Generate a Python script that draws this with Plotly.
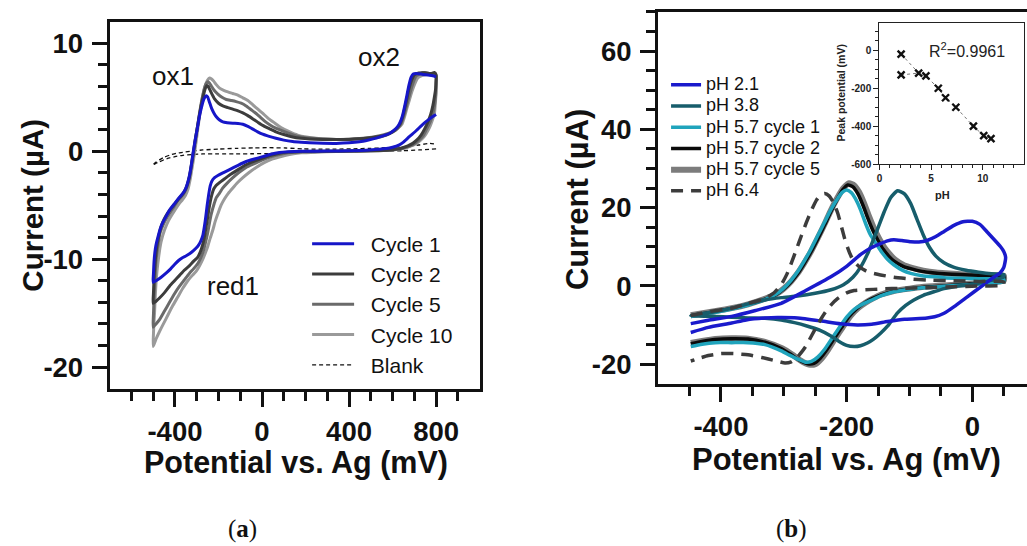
import plotly.graph_objects as go

FONT = "Liberation Sans, Arial, sans-serif"

# ---------------- Panel (a): CV cycles (mV, uA) ----------------
cyc1_x = [800, 770, 739, 708, 677, 650, 631, 600, 571, 494, 400, 300, 188, 120, 80, 40, 3, -35, -73, -110, -149, -180, -203, -218, -230, -238, -245, -252, -258, -265, -272, -283, -295, -315, -333, -350, -364, -382, -402, -420, -441, -465, -487, -500,
          -499, -497, -495, -490, -484, -479, -468, -456, -440, -425, -400, -379, -364, -352, -343, -333, -325, -318, -310, -302, -294, -287, -279, -272, -264, -256, -250, -244, -238, -230, -220, -210, -195, -180, -160, -134, -110, -88, -65, -42, -20, 3, 33, 64, 100, 141, 180, 218, 280, 341, 400, 448, 490, 525, 560, 586, 607, 624, 637, 647, 656, 665, 675, 685, 695, 708, 730, 754, 770, 785, 800]
cyc1_y = [3.4, 3.0, 2.5, 1.9, 1.35, 0.85, 0.6, 0.37, 0.25, 0.12, 0.05, 0.02, 0.0, -0.05, -0.12, -0.28, -0.5, -0.72, -0.95, -1.3, -1.7, -2.0, -2.25, -2.45, -2.75, -3.2, -4.0, -5.0, -6.0, -7.0, -7.8, -8.4, -8.8, -9.2, -9.5, -9.7, -9.85, -10.1, -10.5, -10.9, -11.3, -11.7, -12.0, -12.15,
          -11.4, -10.5, -9.9, -9.0, -8.4, -8.0, -7.2, -6.6, -6.0, -5.45, -4.8, -4.25, -3.9, -3.5, -3.0, -2.2, -1.3, -0.3, 0.7, 1.6, 2.5, 3.3, 4.0, 4.55, 4.95, 5.15, 5.05, 4.7, 4.35, 3.9, 3.5, 3.2, 2.9, 2.72, 2.65, 2.6, 2.58, 2.5, 2.3, 2.05, 1.8, 1.58, 1.38, 1.2, 1.03, 0.9, 0.83, 0.78, 0.74, 0.73, 0.78, 0.88, 1.05, 1.22, 1.45, 1.65, 1.95, 2.3, 2.8, 3.4, 4.2, 5.1, 6.1, 6.85, 7.15, 7.2, 7.15, 7.08, 7.05, 7.0, 6.9]

cyc2_x = [800, 800, 798, 792, 785, 775, 762, 748, 731, 712, 693, 670, 647, 620, 586, 500, 400, 300, 188, 120, 80, 40, 3, -35, -73, -110, -149, -175, -195, -210, -222, -230, -238, -245, -251, -257, -264, -272, -283, -295, -315, -333, -356, -379, -402, -425, -448, -471, -487, -500,
          -499, -497, -495, -490, -484, -474, -464, -450, -433, -410, -387, -370, -356, -345, -333, -324, -315, -307, -298, -289, -279, -271, -264, -258, -253, -247, -241, -230, -218, -200, -180, -157, -134, -110, -88, -65, -42, -20, 3, 33, 64, 100, 141, 180, 218, 280, 341, 400, 448, 490, 525, 560, 586, 610, 632, 645, 655, 665, 675, 688, 701, 720, 739, 760, 777, 792, 800]
cyc2_y = [7.1, 6.6, 5.8, 5.0, 4.2, 3.4, 2.7, 2.1, 1.5, 1.05, 0.73, 0.5, 0.33, 0.2, 0.12, 0.05, 0.02, 0.0, -0.02, -0.08, -0.18, -0.38, -0.64, -0.92, -1.25, -1.7, -2.2, -2.6, -2.9, -3.15, -3.5, -4.0, -4.7, -5.5, -6.3, -7.0, -7.9, -8.6, -9.3, -9.8, -10.2, -10.6, -11.0, -11.5, -12.0, -12.5, -13.1, -13.6, -13.9, -14.1,
          -13.2, -12.2, -11.3, -10.0, -8.9, -7.8, -7.0, -6.3, -5.7, -5.1, -4.5, -4.1, -3.7, -3.2, -2.3, -1.2, -0.05, 1.05, 2.1, 3.2, 4.3, 5.0, 5.6, 5.95, 6.1, 6.0, 5.75, 5.3, 4.85, 4.45, 4.2, 4.05, 3.9, 3.75, 3.55, 3.3, 3.0, 2.7, 2.4, 2.1, 1.8, 1.55, 1.32, 1.2, 1.14, 1.1, 1.08, 1.1, 1.15, 1.23, 1.32, 1.45, 1.62, 1.95, 2.45, 3.1, 3.9, 4.8, 5.75, 6.6, 7.1, 7.25, 7.28, 7.22, 7.2, 7.3, 7.1]

cyc5_x = [800, 800, 799, 795, 790, 781, 770, 755, 739, 720, 701, 678, 655, 620, 586, 500, 400, 300, 188, 120, 80, 40, 3, -35, -73, -105, -134, -160, -180, -196, -210, -222, -233, -241, -249, -259, -269, -282, -295, -315, -333, -356, -379, -402, -425, -448, -471, -487, -500,
          -499, -497, -495, -491, -487, -478, -469, -452, -433, -410, -387, -370, -356, -345, -333, -324, -315, -307, -298, -289, -279, -271, -264, -256, -248, -241, -233, -220, -203, -184, -164, -140, -119, -96, -73, -50, -27, -5, 18, 48, 80, 118, 157, 195, 234, 290, 341, 400, 464, 505, 540, 572, 601, 622, 639, 652, 663, 674, 685, 697, 708, 728, 747, 768, 785, 800]
cyc5_y = [7.0, 6.3, 5.4, 4.6, 3.9, 3.2, 2.6, 2.0, 1.4, 1.0, 0.7, 0.48, 0.33, 0.18, 0.1, 0.04, 0.0, -0.02, -0.05, -0.15, -0.3, -0.52, -0.8, -1.15, -1.5, -1.95, -2.45, -2.95, -3.4, -3.9, -4.3, -5.0, -5.8, -6.6, -7.5, -8.4, -9.2, -9.9, -10.4, -10.9, -11.3, -11.9, -12.5, -13.2, -14.0, -14.8, -15.6, -16.0, -16.3,
          -15.2, -14.1, -13.1, -11.5, -10.1, -8.7, -7.6, -6.7, -6.0, -5.3, -4.6, -4.2, -3.8, -3.3, -2.4, -1.3, -0.2, 0.95, 2.1, 3.3, 4.5, 5.3, 5.9, 6.3, 6.45, 6.3, 6.05, 5.65, 5.3, 5.0, 4.8, 4.7, 4.6, 4.45, 4.2, 3.85, 3.5, 3.1, 2.7, 2.3, 2.0, 1.7, 1.43, 1.28, 1.2, 1.13, 1.1, 1.12, 1.2, 1.3, 1.43, 1.6, 1.8, 2.1, 2.55, 3.3, 4.1, 4.95, 5.75, 6.5, 6.97, 7.2, 7.3, 7.22, 7.1, 7.0]

cyc10_x = [800, 800, 799, 796, 793, 785, 774, 762, 747, 728, 708, 686, 663, 625, 586, 500, 400, 341, 250, 180, 126, 88, 49, 10, -27, -58, -88, -112, -134, -155, -172, -188, -203, -215, -226, -238, -249, -260, -272, -287, -302, -320, -341, -364, -387, -410, -433, -452, -471, -487, -500,
           -499, -497, -494, -490, -484, -475, -464, -448, -429, -405, -382, -366, -352, -340, -330, -321, -312, -303, -295, -286, -276, -267, -259, -250, -241, -232, -222, -209, -195, -176, -157, -134, -111, -88, -65, -42, -19, 4, 26, 56, 87, 125, 164, 205, 249, 295, 341, 400, 464, 505, 540, 572, 601, 625, 643, 655, 666, 678, 690, 703, 716, 735, 755, 778, 800]
cyc10_y = [7.0, 6.0, 5.1, 4.3, 3.6, 3.0, 2.4, 1.9, 1.4, 1.0, 0.7, 0.5, 0.33, 0.18, 0.1, 0.04, 0.0, -0.02, -0.08, -0.15, -0.3, -0.48, -0.7, -1.05, -1.5, -1.95, -2.45, -2.9, -3.4, -3.9, -4.4, -5.0, -5.8, -6.5, -7.3, -8.05, -8.8, -9.4, -10.0, -10.6, -11.1, -11.5, -12.0, -12.7, -13.5, -14.3, -15.2, -15.95, -16.7, -17.4, -18.1,
           -17.0, -16.0, -15.0, -13.2, -11.4, -9.8, -8.4, -7.3, -6.4, -5.6, -4.9, -4.5, -4.1, -3.5, -2.6, -1.5, -0.4, 0.85, 2.1, 3.4, 4.7, 5.6, 6.2, 6.6, 6.8, 6.7, 6.5, 6.15, 5.85, 5.65, 5.5, 5.35, 5.2, 4.95, 4.7, 4.3, 3.9, 3.5, 3.1, 2.65, 2.2, 1.82, 1.5, 1.32, 1.2, 1.13, 1.1, 1.12, 1.15, 1.22, 1.3, 1.5, 1.8, 2.15, 2.5, 3.2, 4.0, 4.8, 5.6, 6.3, 6.8, 7.0, 7.1, 7.1, 7.0]

blank_x = [800, 720, 647, 570, 494, 420, 341, 260, 188, 110, 34, -40, -119, -200, -272, -320, -364, -395, -425, -450, -472, -490, -503,
           -490, -472, -450, -425, -395, -364, -320, -272, -200, -119, -40, 34, 110, 188, 260, 341, 420, 494, 570, 647, 720, 770, 800]
blank_y = [0.22, 0.12, 0.05, 0.02, 0.0, -0.03, -0.06, -0.1, -0.15, -0.18, -0.21, -0.23, -0.24, -0.24, -0.25, -0.3, -0.38, -0.48, -0.62, -0.78, -0.98, -1.15, -1.3,
           -1.05, -0.8, -0.55, -0.36, -0.2, -0.1, 0.02, 0.12, 0.2, 0.27, 0.31, 0.33, 0.3, 0.22, 0.2, 0.2, 0.23, 0.27, 0.33, 0.43, 0.58, 0.73, 0.64]

a_xticks = [-400, 0, 400, 800]
a_xminor = [-600, -500, -300, -200, -100, 100, 200, 300, 500, 600, 700, 900]
a_yticks = [-20, -10, 0, 10]
a_yminor = [-18, -16, -14, -12, -8, -6, -4, -2, 2, 4, 6, 8]

# ---------------- Panel (b): pH series ----------------
ph21_x = [-448, -420, -383, -345, -304, -265, -225, -200, -177, -160, -146, -135, -125, -112, -98, -85, -72, -58, -45, -30, -15, 0, 12, 24, 35, 45, 50, 53,
          52, 50, 44, 34, 24, 13, -8, -29, -45, -60, -72, -90, -108, -135, -160, -183, -210, -240, -278, -310, -330, -360, -383, -420, -448]
ph21_y = [-9.65, -8.8, -7.8, -6.3, -4.45, -1.2, 2.3, 5.0, 8.1, 9.8, 10.8, 11.5, 11.8, 11.6, 11.3, 11.2, 11.6, 12.6, 13.9, 15.4, 16.4, 16.5, 15.7, 13.7, 11.8, 10.0, 8.8, 7.3,
          6.0, 4.7, 3.3, 2.2, 1.0, -0.3, -2.8, -5.3, -7.0, -7.9, -8.2, -8.4, -8.5, -9.1, -9.8, -10.0, -9.7, -9.0, -8.2, -8.1, -8.2, -8.7, -9.5, -10.6, -11.9]

ph38_x = [-448, -410, -383, -357, -330, -304, -278, -250, -225, -205, -190, -177, -165, -152, -140, -130, -119, -108, -98, -88, -78, -68, -58, -45, -30, -10, 10, 30, 50,
          50, 30, 8, -10, -29, -45, -61, -78, -93, -106, -119, -135, -146, -157, -167, -178, -188, -200, -212, -225, -243, -262, -283, -304, -330, -357, -383, -409, -448]
ph38_y = [-7.6, -6.6, -5.7, -4.6, -3.6, -3.0, -2.6, -1.9, -1.0, 0.3, 2.2, 5.0, 8.8, 14.0, 19.0, 22.5, 24.3, 23.5, 21.0, 17.0, 13.0, 9.8, 7.6, 5.9, 4.8, 4.0, 3.5, 3.1, 2.9,
          2.3, 1.4, 0.6, 0.15, -0.2, -0.7, -1.5, -2.4, -3.6, -5.0, -6.9, -10.3, -12.1, -13.6, -14.6, -15.3, -15.5, -15.2, -14.2, -12.8, -11.3, -10.3, -9.4, -8.7, -8.3, -8.2, -8.0, -7.8, -7.6]

ph57c1_x = [-448, -410, -383, -357, -330, -312, -300, -288, -278, -268, -257, -246, -235, -225, -214, -207, -200, -193, -186, -178, -170, -162, -154, -145, -135, -125, -110, -98, -80, -60, -45, -20, 10, 30, 50,
            50, 20, -10, -45, -80, -100, -125, -145, -160, -177, -188, -200, -214, -225, -235, -246, -256, -265, -278, -291, -304, -330, -357, -383, -409, -430, -448]
ph57c1_y = [-7.8, -6.8, -5.9, -4.9, -3.5, -2.1, -0.6, 1.5, 3.6, 6.2, 9.3, 12.8, 16.3, 19.5, 22.4, 23.9, 24.5, 23.9, 22.3, 19.5, 16.0, 13.0, 11.0, 8.8, 6.8, 5.4, 3.9, 3.2, 2.6, 2.3, 2.1, 1.95, 1.85, 1.8, 1.75,
            1.0, 0.6, 0.25, -0.1, -0.5, -0.9, -1.5, -2.5, -3.6, -4.9, -6.0, -8.0, -11.2, -13.8, -16.2, -18.2, -19.3, -19.5, -18.7, -17.7, -16.6, -15.0, -14.5, -14.5, -14.5, -14.9, -15.5]

ph57c2_x = [-448, -410, -383, -357, -330, -312, -300, -288, -278, -268, -257, -246, -235, -225, -214, -206, -198, -190, -182, -174, -166, -158, -150, -142, -133, -125, -110, -98, -80, -60, -45, -20, 10, 30, 50,
            50, 20, -10, -45, -80, -100, -125, -145, -160, -172, -184, -196, -208, -220, -231, -242, -252, -262, -275, -288, -304, -330, -357, -383, -409, -430, -448]
ph57c2_y = [-7.6, -6.6, -5.8, -4.8, -3.4, -2.2, -0.8, 1.1, 3.1, 5.6, 8.6, 12.0, 15.6, 19.0, 22.4, 24.6, 25.8, 25.3, 23.5, 20.6, 17.2, 14.1, 11.6, 9.4, 7.6, 6.4, 5.0, 4.4, 3.7, 3.3, 3.1, 2.9, 2.7, 2.6, 2.5,
            1.2, 0.8, 0.4, 0.0, -0.4, -0.8, -1.4, -2.3, -3.3, -4.4, -5.8, -7.8, -10.6, -13.5, -16.2, -18.5, -19.8, -19.9, -19.0, -17.6, -16.0, -14.4, -13.6, -13.5, -13.7, -14.2, -14.8]

ph57c5_x = [-448, -410, -383, -357, -330, -312, -300, -288, -278, -268, -257, -246, -235, -225, -214, -205, -196, -188, -180, -172, -164, -156, -148, -140, -131, -123, -108, -96, -78, -58, -43, -18, 12, 32, 50,
            50, 20, -10, -45, -80, -100, -125, -145, -158, -170, -182, -194, -206, -218, -229, -240, -250, -260, -273, -286, -302, -330, -357, -383, -409, -430, -448]
ph57c5_y = [-7.5, -6.5, -5.7, -4.7, -3.3, -2.1, -0.7, 1.2, 3.2, 5.7, 8.7, 12.2, 15.8, 19.3, 22.7, 25.0, 26.2, 25.7, 23.9, 21.0, 17.6, 14.5, 12.0, 9.8, 8.0, 6.7, 5.2, 4.6, 3.9, 3.4, 3.2, 3.0, 2.8, 2.7, 2.6,
            1.3, 0.9, 0.5, 0.1, -0.3, -0.7, -1.3, -2.2, -3.2, -4.3, -5.7, -7.7, -10.5, -13.4, -16.2, -18.6, -20.0, -20.1, -19.1, -17.6, -16.0, -14.3, -13.5, -13.4, -13.6, -14.1, -14.6]

ph64_x = [-448, -420, -383, -357, -330, -315, -304, -295, -288, -280, -272, -264, -256, -248, -241, -235, -228, -221, -214, -208, -203, -198, -193, -188, -180, -170, -160, -146, -125, -100, -72, -30, 10, 50,
          50, 10, -30, -72, -110, -146, -170, -188, -200, -214, -225, -235, -245, -256, -264, -272, -280, -288, -298, -314, -335, -357, -380, -400, -420, -435, -448]
ph64_y = [-7.6, -6.6, -5.7, -4.5, -3.2, -1.7, 0.3, 3.0, 5.8, 9.3, 12.8, 16.2, 19.3, 21.9, 23.3, 23.6, 23.0, 21.3, 18.5, 15.0, 12.0, 9.6, 7.6, 6.2, 4.9, 3.9, 3.3, 2.8, 2.2, 1.8, 1.5, 1.3, 1.15, 1.0,
          0.2, -0.05, -0.25, -0.45, -0.6, -0.8, -1.0, -1.2, -1.8, -3.2, -4.9, -7.0, -9.6, -12.8, -15.2, -17.0, -18.5, -19.4, -19.7, -19.1, -18.3, -17.6, -17.3, -17.3, -17.8, -18.5, -19.2]

b_xticks = [-400, -200, 0]
b_xminor = [-450, -350, -300, -250, -150, -100, -50, 50]
b_yticks = [-20, 0, 20, 40, 60]
b_yminor = [-15, -10, -5, 5, 10, 15, 25, 30, 35, 45, 50, 55, 65, 70]

# ---------------- Inset: peak potential vs pH ----------------
inset_ph_main = [2.1, 3.8, 4.5, 5.7, 6.4, 7.4, 9.1, 10.1, 10.8]
inset_peak_main = [-20, -120, -135, -200, -250, -300, -400, -450, -465]
inset_ph_second = [2.1, 3.8]
inset_peak_second = [-130, -120]
inset_xticks = [0, 5, 10]
inset_yticks = [-600, -400, -200, 0]

fig = go.Figure()


def add_line(x, y, name, color, width, xa, ya, legend, rank, dash=None):
    fig.add_trace(go.Scatter(
        x=x, y=y, mode="lines", name=name,
        line=dict(color=color, width=width, dash=dash, shape="spline", smoothing=0.5),
        xaxis=xa, yaxis=ya, legend=legend, legendrank=rank, legendgroup=name,
        hoverinfo="skip"))


pad_a = "\u00a0\u00a0"
# panel (a) traces (blue last so it sits on top)
add_line(blank_x, blank_y, pad_a + "Blank", "#111111", 1.3, "x", "y", "legend", 5, dash="4px,3px")
add_line(cyc10_x, cyc10_y, pad_a + "Cycle 10", "#9a9a9a", 3, "x", "y", "legend", 4)
add_line(cyc5_x, cyc5_y, pad_a + "Cycle 5", "#6a6a6a", 3, "x", "y", "legend", 3)
add_line(cyc2_x, cyc2_y, pad_a + "Cycle 2", "#3c3c3c", 3, "x", "y", "legend", 2)
add_line(cyc1_x, cyc1_y, pad_a + "Cycle 1", "#1616c8", 3, "x", "y", "legend", 1)

# panel (b) traces
span = '<span style="font-size:18px">{}</span>'
add_line(ph57c5_x, ph57c5_y, span.format("pH 5.7 cycle 5"), "#7c7c7c", 6, "x2", "y2", "legend2", 5)
add_line(ph57c2_x, ph57c2_y, span.format("pH 5.7 cycle 2"), "#0a0a0a", 3.5, "x2", "y2", "legend2", 4)
add_line(ph57c1_x, ph57c1_y, span.format("pH 5.7 cycle 1"), "#20a4bc", 3.5, "x2", "y2", "legend2", 3)
add_line(ph38_x, ph38_y, span.format("pH 3.8"), "#175d6b", 3.5, "x2", "y2", "legend2", 2)
add_line(ph21_x, ph21_y, span.format("pH 2.1"), "#1a1acc", 3.5, "x2", "y2", "legend2", 1)
add_line(ph64_x, ph64_y, span.format("pH 6.4"), "#3c3c3c", 3.5, "x2", "y2", "legend2", 6, dash="12px,8px")

# inset
fig.add_trace(go.Scatter(x=inset_ph_second, y=inset_peak_second, mode="lines", showlegend=False,
                         line=dict(color="#777777", width=1, dash="dot"), xaxis="x3", yaxis="y3", hoverinfo="skip"))
fig.add_trace(go.Scatter(x=inset_ph_main, y=inset_peak_main, mode="lines", showlegend=False,
                         line=dict(color="#777777", width=1, dash="dot"), xaxis="x3", yaxis="y3", hoverinfo="skip"))
fig.add_trace(go.Scatter(x=inset_ph_main + inset_ph_second[:1], y=inset_peak_main + inset_peak_second[:1],
                         mode="markers", showlegend=False,
                         marker=dict(symbol="x-thin", size=7, line=dict(color="#111111", width=2.4)),
                         xaxis="x3", yaxis="y3", hoverinfo="skip"))

W, H = 1027, 546


def px_x(p):
    return p / W


def px_y(p):
    return (H - p) / H


tickfont_main = dict(family=FONT, size=27.5, color="#111111", weight="bold")


def main_axis(domain, rng, tickvals, minor_vals, anchor, mirror, standoff):
    return dict(domain=domain, range=rng, anchor=anchor,
                tickmode="array", tickvals=tickvals, ticktext=[str(v) for v in tickvals],
                ticks="outside", ticklen=15, tickwidth=3, tickcolor="#111111",
                minor=dict(tickmode="array", tickvals=minor_vals, ticks="outside", ticklen=9,
                           tickwidth=3, tickcolor="#111111", showgrid=False),
                showline=True, linewidth=3, linecolor="#111111", mirror=mirror,
                showgrid=False, zeroline=False, tickfont=tickfont_main,
                ticklabelstandoff=standoff, fixedrange=True)


layout = dict(
    width=W, height=H, margin=dict(l=0, r=0, t=0, b=0),
    paper_bgcolor="white", plot_bgcolor="white",
    font=dict(family=FONT, color="#111111"),
    xaxis=main_axis([px_x(107), px_x(478)], [-700, 1000], a_xticks, a_xminor, "y", True, 1),
    yaxis=main_axis([px_y(393), px_y(22)], [-22, 12], a_yticks, a_yminor, "x", True, 3),
    xaxis2=main_axis([px_x(657), 1.0], [-500, 87], b_xticks, b_xminor, "y2", True, 1),
    yaxis2=main_axis([px_y(388), px_y(12)], [-25, 70], b_yticks, b_yminor, "x2", False, 3),
    xaxis3=dict(domain=[px_x(879), px_x(1024)], range=[0, 14], anchor="y3",
                tickmode="array", tickvals=inset_xticks, ticktext=[str(v) for v in inset_xticks],
                ticks="outside", ticklen=5, tickwidth=1.3, tickcolor="#222222",
                minor=dict(tickmode="array", tickvals=[1, 2, 3, 4, 6, 7, 8, 9, 11, 12, 13],
                           ticks="outside", ticklen=3, tickwidth=1.2, tickcolor="#222222"),
                showline=True, linewidth=1.4, linecolor="#222222", mirror=True,
                showgrid=False, zeroline=False,
                tickfont=dict(family=FONT, size=10, color="#222222", weight="bold"), fixedrange=True),
    yaxis3=dict(domain=[px_y(166), px_y(23)], range=[-600, 145], anchor="x3",
                tickmode="array", tickvals=inset_yticks, ticktext=[str(v) for v in inset_yticks],
                ticks="outside", ticklen=5, tickwidth=1.3, tickcolor="#222222",
                minor=dict(tickmode="array", tickvals=[-550, -500, -450, -350, -300, -250, -150, -100, -50, 50, 100],
                           ticks="outside", ticklen=3, tickwidth=1.2, tickcolor="#222222"),
                showline=True, linewidth=1.4, linecolor="#222222", mirror=True,
                showgrid=False, zeroline=False,
                tickfont=dict(family=FONT, size=10, color="#222222", weight="bold"), fixedrange=True),
    legend=dict(x=px_x(305), y=px_y(226), xanchor="left", yanchor="top",
                bgcolor="rgba(0,0,0,0)", font=dict(family=FONT, size=21, color="#111111"),
                itemwidth=42, tracegroupgap=0, traceorder="normal"),
    legend2=dict(x=px_x(665), y=px_y(70), xanchor="left", yanchor="top",
                 bgcolor="rgba(0,0,0,0)", font=dict(family=FONT, size=14, color="#111111"),
                 itemwidth=30, tracegroupgap=0, traceorder="normal"),
    showlegend=True,
)
fig.update_layout(**layout)

ann = []
bold_title = dict(family=FONT, size=30.5, color="#111111", weight="bold")
ann.append(dict(text="Current (µA)", x=px_x(30), y=px_y(207), textangle=-90, font=dict(bold_title, size=29.5)))
ann.append(dict(text="Potential vs. Ag (mV)", x=px_x(294), y=px_y(468), font=bold_title))
ann.append(dict(text="Current (µA)", x=px_x(576), y=px_y(202), textangle=-90, font=dict(bold_title, size=31)))
ann.append(dict(text="Potential vs. Ag (mV)", x=px_x(846), y=px_y(465), font=dict(bold_title, size=31)))
peak_lbl = dict(family=FONT, size=26, color="#111111")
ann.append(dict(text="ox1", x=px_x(170), y=px_y(77), font=peak_lbl))
ann.append(dict(text="ox2", x=px_x(377), y=px_y(58), font=peak_lbl))
ann.append(dict(text="red1", x=px_x(231), y=px_y(289), font=peak_lbl))
ann.append(dict(text="Peak potential (mV)", x=px_x(840), y=px_y(94), textangle=-90,
                font=dict(family=FONT, size=10.5, color="#222222", weight="bold")))
ann.append(dict(text="pH", x=px_x(942), y=px_y(197), font=dict(family=FONT, size=11, color="#222222", weight="bold")))
ann.append(dict(text="R<sup>2</sup>=0.9961", x=px_x(967), y=px_y(51), font=dict(family=FONT, size=16, color="#222222")))
cap = dict(family="Liberation Serif, DejaVu Serif, serif", size=25, color="#111111")
ann.append(dict(text="(<b>a</b>)", x=px_x(240), y=px_y(535), font=cap))
ann.append(dict(text="(<b>b</b>)", x=px_x(791), y=px_y(535), font=cap))
for a in ann:
    a.update(xref="paper", yref="paper", showarrow=False, xanchor="center", yanchor="middle")
fig.update_layout(annotations=ann)

fig.write_html("out.html")
